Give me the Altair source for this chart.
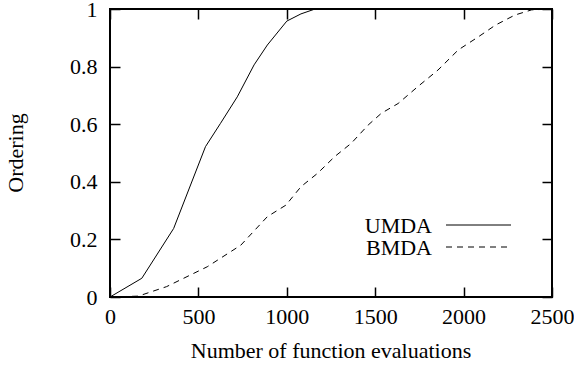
import altair as alt
import pandas as pd

# ---- data ----
umda_x = [0, 180, 360, 540, 625, 720, 815, 890, 1000, 1080, 1160, 2500]
umda_y = [0, 0.065, 0.238, 0.522, 0.603, 0.695, 0.806, 0.875, 0.958, 0.983, 1.0, 1.0]

bmda_x = [0, 160, 320, 550, 740, 890, 995, 1080, 1175, 1270, 1365, 1460, 1535,
          1630, 1740, 1855, 1970, 2085, 2180, 2290, 2385, 2500]
bmda_y = [0, 0.003, 0.036, 0.105, 0.18, 0.279, 0.319, 0.383, 0.43, 0.487, 0.534,
          0.597, 0.638, 0.672, 0.73, 0.788, 0.858, 0.904, 0.944, 0.979, 0.997, 1.0]

x_ticks = [0, 500, 1000, 1500, 2000, 2500]
y_ticks = [0, 0.2, 0.4, 0.6, 0.8, 1]

series_names = ["UMDA", "BMDA"]
x_title = "Number of function evaluations"
y_title = "Ordering"

FONT = "Liberation Serif"
FS = 22
TL = 10  # tick length

umda = pd.DataFrame({"x": umda_x, "y": umda_y})
bmda = pd.DataFrame({"x": bmda_x, "y": bmda_y})

xs = alt.Scale(domain=[0, 2500], nice=False, zero=False)
ys = alt.Scale(domain=[0, 1], nice=False, zero=False)

common_axis = dict(grid=False, domain=False, tickColor="black", tickWidth=1.5,
                   tickSize=TL, offset=-TL, labelFont=FONT, labelFontSize=FS,
                   labelColor="black", title=None)

line1 = alt.Chart(umda).mark_line(color="black", strokeWidth=1).encode(
    x=alt.X("x:Q", scale=xs,
            axis=alt.Axis(orient="bottom", values=x_ticks, format="d",
                          labelPadding=9, labelFlush=False, **common_axis)),
    y=alt.Y("y:Q", scale=ys,
            axis=alt.Axis(orient="left", values=y_ticks, format="~g",
                          labelPadding=13, labelFlush=False, **common_axis)),
)

line2 = alt.Chart(bmda).mark_line(color="black", strokeWidth=1,
                                  strokeDash=[6, 5]).encode(
    x=alt.X("x:Q", scale=xs,
            axis=alt.Axis(orient="top", values=x_ticks, labels=False,
                          **common_axis)),
    y=alt.Y("y:Q", scale=ys,
            axis=alt.Axis(orient="right", values=y_ticks, labels=False,
                          **common_axis)),
)

# axis titles
xt = alt.Chart().mark_text(text=x_title, font=FONT, fontSize=FS, color="black",
                           align="center", baseline="alphabetic").encode(
    x=alt.value(221), y=alt.value(349))
yt = alt.Chart().mark_text(text=y_title, font=FONT, fontSize=FS, color="black",
                           align="center", baseline="alphabetic", angle=270).encode(
    x=alt.value(-87), y=alt.value(144))

# gnuplot-style legend
lg1 = alt.Chart().mark_text(text=series_names[0], font=FONT, fontSize=FS,
                            color="black", align="right",
                            baseline="alphabetic").encode(
    x=alt.value(322), y=alt.value(224))
lg2 = alt.Chart().mark_text(text=series_names[1], font=FONT, fontSize=FS,
                            color="black", align="right",
                            baseline="alphabetic").encode(
    x=alt.value(322), y=alt.value(246))
ls1 = alt.Chart().mark_rule(color="black", strokeWidth=1).encode(
    x=alt.value(336), x2=alt.value(401), y=alt.value(216))
ls2 = alt.Chart().mark_rule(color="black", strokeWidth=1,
                            strokeDash=[6, 5]).encode(
    x=alt.value(336), x2=alt.value(401), y=alt.value(238))

chart = alt.layer(line1, line2, xt, yt, lg1, lg2, ls1, ls2).resolve_axis(
    x="independent", y="independent"
).properties(
    width=442, height=288,
    autosize=alt.AutoSizeParams(type="none"),
    padding={"left": 110, "top": 9, "right": 22, "bottom": 69},
    background="white",
).configure_view(stroke="black", strokeWidth=2
).configure_axis(labelFont=FONT, labelFontSize=FS, labelColor="black")

chart.save("out.html", embed_options={"renderer": "svg", "actions": False})
